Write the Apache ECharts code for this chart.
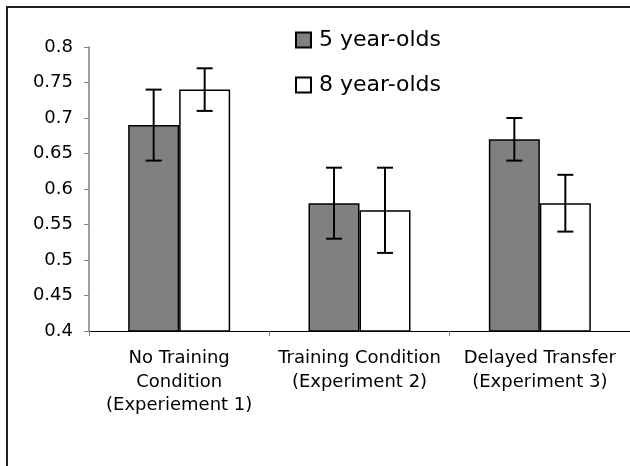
<!DOCTYPE html>
<html>
<head>
<meta charset="utf-8">
<script src="https://cdn.jsdelivr.net/npm/echarts@6/dist/echarts.min.js"></script>
<style>html,body{margin:0;padding:0;background:#fff;}#c{width:630px;height:466px;}</style>
</head>
<body>
<div id="c"></div>
<script>
var categories = ['No Training\nCondition\n(Experiement 1)', 'Training Condition\n(Experiment 2)', 'Delayed Transfer\n(Experiment 3)'];
var seriesNames = ['5 year-olds', '8 year-olds'];
var fiveYear = [0.69, 0.58, 0.67];
var eightYear = [0.74, 0.57, 0.58];
var fiveLow = [0.64, 0.53, 0.64];
var fiveHigh = [0.74, 0.63, 0.70];
var eightLow = [0.71, 0.51, 0.54];
var eightHigh = [0.77, 0.63, 0.62];
var yTicks = [0.4, 0.45, 0.5, 0.55, 0.6, 0.65, 0.7, 0.75, 0.8];

var FONT = 'DejaVu Sans';
var BAR_W = 51;

function errData(lo, hi) {
  return lo.map(function (l, i) { return [i, l, hi[i]]; });
}
function errSeries(name, lo, hi, offset) {
  return {
    type: 'custom',
    name: name + ' error',
    z: 10,
    silent: true,
    data: errData(lo, hi),
    encode: { x: 0, y: [1, 2] },
    renderItem: function (params, api) {
      var a = api.coord([api.value(0), api.value(1)]);
      var b = api.coord([api.value(0), api.value(2)]);
      var x = a[0] + offset;
      var cap = 8;
      var st = { stroke: '#000', lineWidth: 2 };
      return {
        type: 'group',
        children: [
          { type: 'line', shape: { x1: x, y1: a[1], x2: x, y2: b[1] }, style: st },
          { type: 'line', shape: { x1: x - cap, y1: a[1], x2: x + cap, y2: a[1] }, style: st },
          { type: 'line', shape: { x1: x - cap, y1: b[1], x2: x + cap, y2: b[1] }, style: st }
        ]
      };
    }
  };
}

var chart = echarts.init(document.getElementById('c'), null, { renderer: 'canvas' });
chart.setOption({
  animation: false,
  backgroundColor: '#fff',
  textStyle: { fontFamily: FONT, color: '#000' },
  graphic: [{
    type: 'polyline', z: -1,
    shape: { points: [[7, 470], [7, 7], [640, 7]] },
    style: { fill: 'none', stroke: '#222', lineWidth: 2 }
  }],
  legend: {
    orient: 'vertical',
    left: 290,
    top: 24,
    itemWidth: 15,
    itemHeight: 15,
    itemGap: 23,
    icon: 'rect',
    data: seriesNames,
    textStyle: { fontFamily: FONT, fontSize: 22, color: '#000', padding: [0, 0, 0, 3] }
  },
  grid: { left: 89, right: -2, top: 47, bottom: 135, containLabel: false },
  xAxis: {
    type: 'category',
    data: categories,
    axisLine: { lineStyle: { color: '#000', width: 1 } },
    axisTick: { show: true, length: 5, lineStyle: { color: '#808080' } },
    axisLabel: { interval: 0, fontFamily: FONT, fontSize: 18, color: '#000', lineHeight: 23.5, margin: 16 },
    splitLine: { show: false }
  },
  yAxis: {
    type: 'value',
    min: 0.4,
    max: 0.8,
    interval: 0.05,
    axisLine: { show: true, lineStyle: { color: '#808080', width: 1.5 } },
    axisTick: { show: true, length: 5, lineStyle: { color: '#808080' } },
    axisLabel: {
      fontFamily: FONT, fontSize: 18, color: '#000', margin: 16,
      formatter: function (v) { return String(+v.toFixed(2)); }
    },
    splitLine: { show: false }
  },
  series: [
    {
      name: seriesNames[0], type: 'bar', data: fiveYear, barWidth: BAR_W, barGap: '0%',
      itemStyle: { color: '#808080', borderColor: '#000', borderWidth: 1.5 }
    },
    {
      name: seriesNames[1], type: 'bar', data: eightYear, barWidth: BAR_W, barGap: '0%',
      itemStyle: { color: '#ffffff', borderColor: '#000', borderWidth: 1.5 }
    },
    errSeries(seriesNames[0], fiveLow, fiveHigh, -BAR_W / 2),
    errSeries(seriesNames[1], eightLow, eightHigh, BAR_W / 2)
  ]
});
</script>
</body>
</html>
